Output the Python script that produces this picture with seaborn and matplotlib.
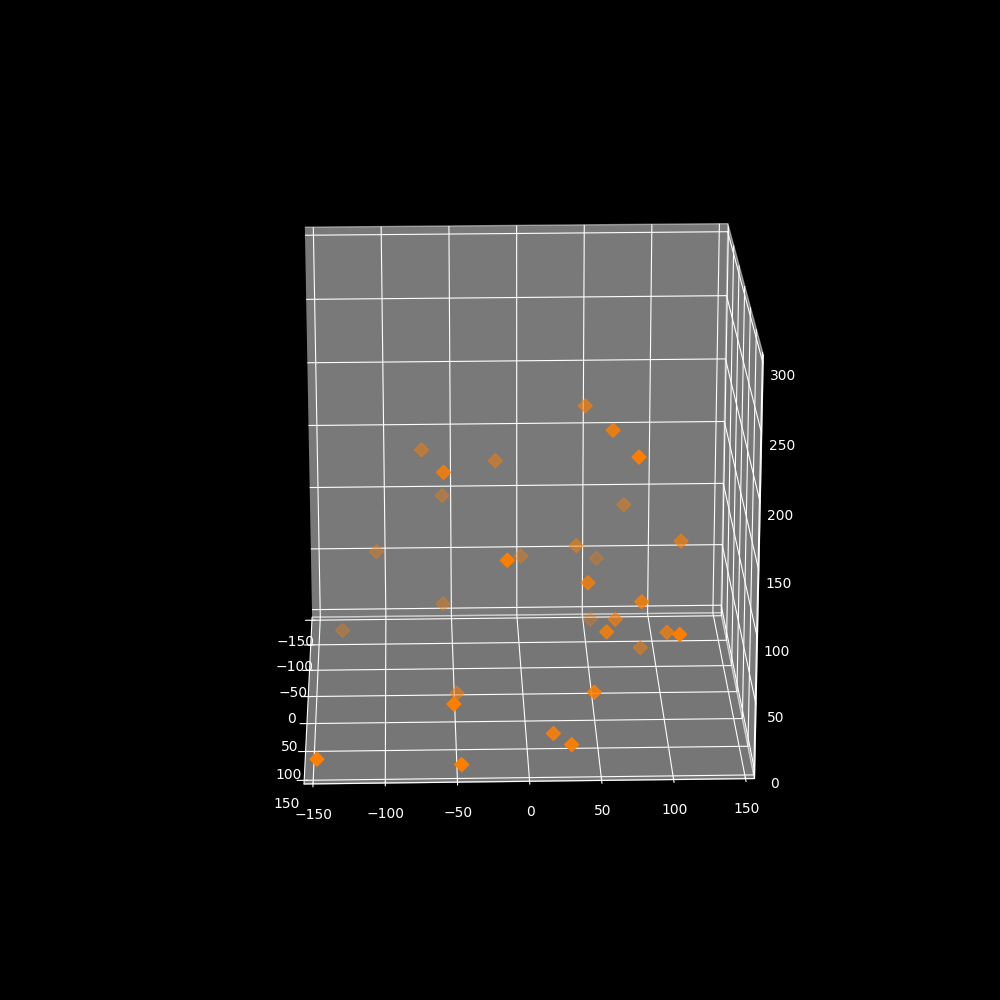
import matplotlib
matplotlib.use('Agg')
import matplotlib.pyplot as plt
import seaborn as sns

# values
x_vals = [-132, -57, -48, -52, -147, -47, 40, 58, 45, 114, 82, 53, 66, 57, 102, 105,
          87, 47, 46, 63, 78, -72, -18, -57, -57, 77, 1, -14, -106, 18, 30]
y_vals = [-86, -75, 0, 142, 155, 156, -37, -104, 43, -2, 66, -88, 17, 73, 38, 126,
          -28, 105, -36, 24, 84, -79, -76, 34, -103, -82, -87, 108, -89, 115, 135]
z_vals = [11, 36, -5, 47, 12, 7, 96, 60, 98, 112, 92, 17, 59, 72, 57, 91,
          18, 39, 205, 207, 208, 157, 149, 180, 112, 111, 69, 141, 73, 12, 12]

sns.set_style('white')
plt.style.use('dark_background')
plt.rcParams['axes3d.automargin'] = True

fig = plt.figure(figsize=(10, 10), dpi=100)
ax = fig.add_subplot(111, projection='3d')
ax.scatter(x_vals, y_vals, z_vals, c='#ff7f00', marker='D', s=50)
ax.set_xlim(-150, 150)
ax.set_ylim(150, -150)
ax.set_zlim(0, 300)
ax.set_box_aspect((1, 1, 0.99), zoom=0.95)
ax.view_init(elev=20, azim=-91.7)
ax.zaxis.set_ticks_position('upper')
ax.zaxis._axinfo['tick']['outward_factor'] = 0
ax.zaxis._axinfo['tick']['inward_factor'] = 0
ax.xaxis.set_pane_color((0.95, 0.95, 0.95, 0.5))
ax.yaxis.set_pane_color((0.95, 0.95, 0.95, 0.5))
ax.zaxis.set_pane_color((0.93, 0.93, 0.93, 0.5))
fig.savefig('out.png', dpi=100, facecolor='black')
